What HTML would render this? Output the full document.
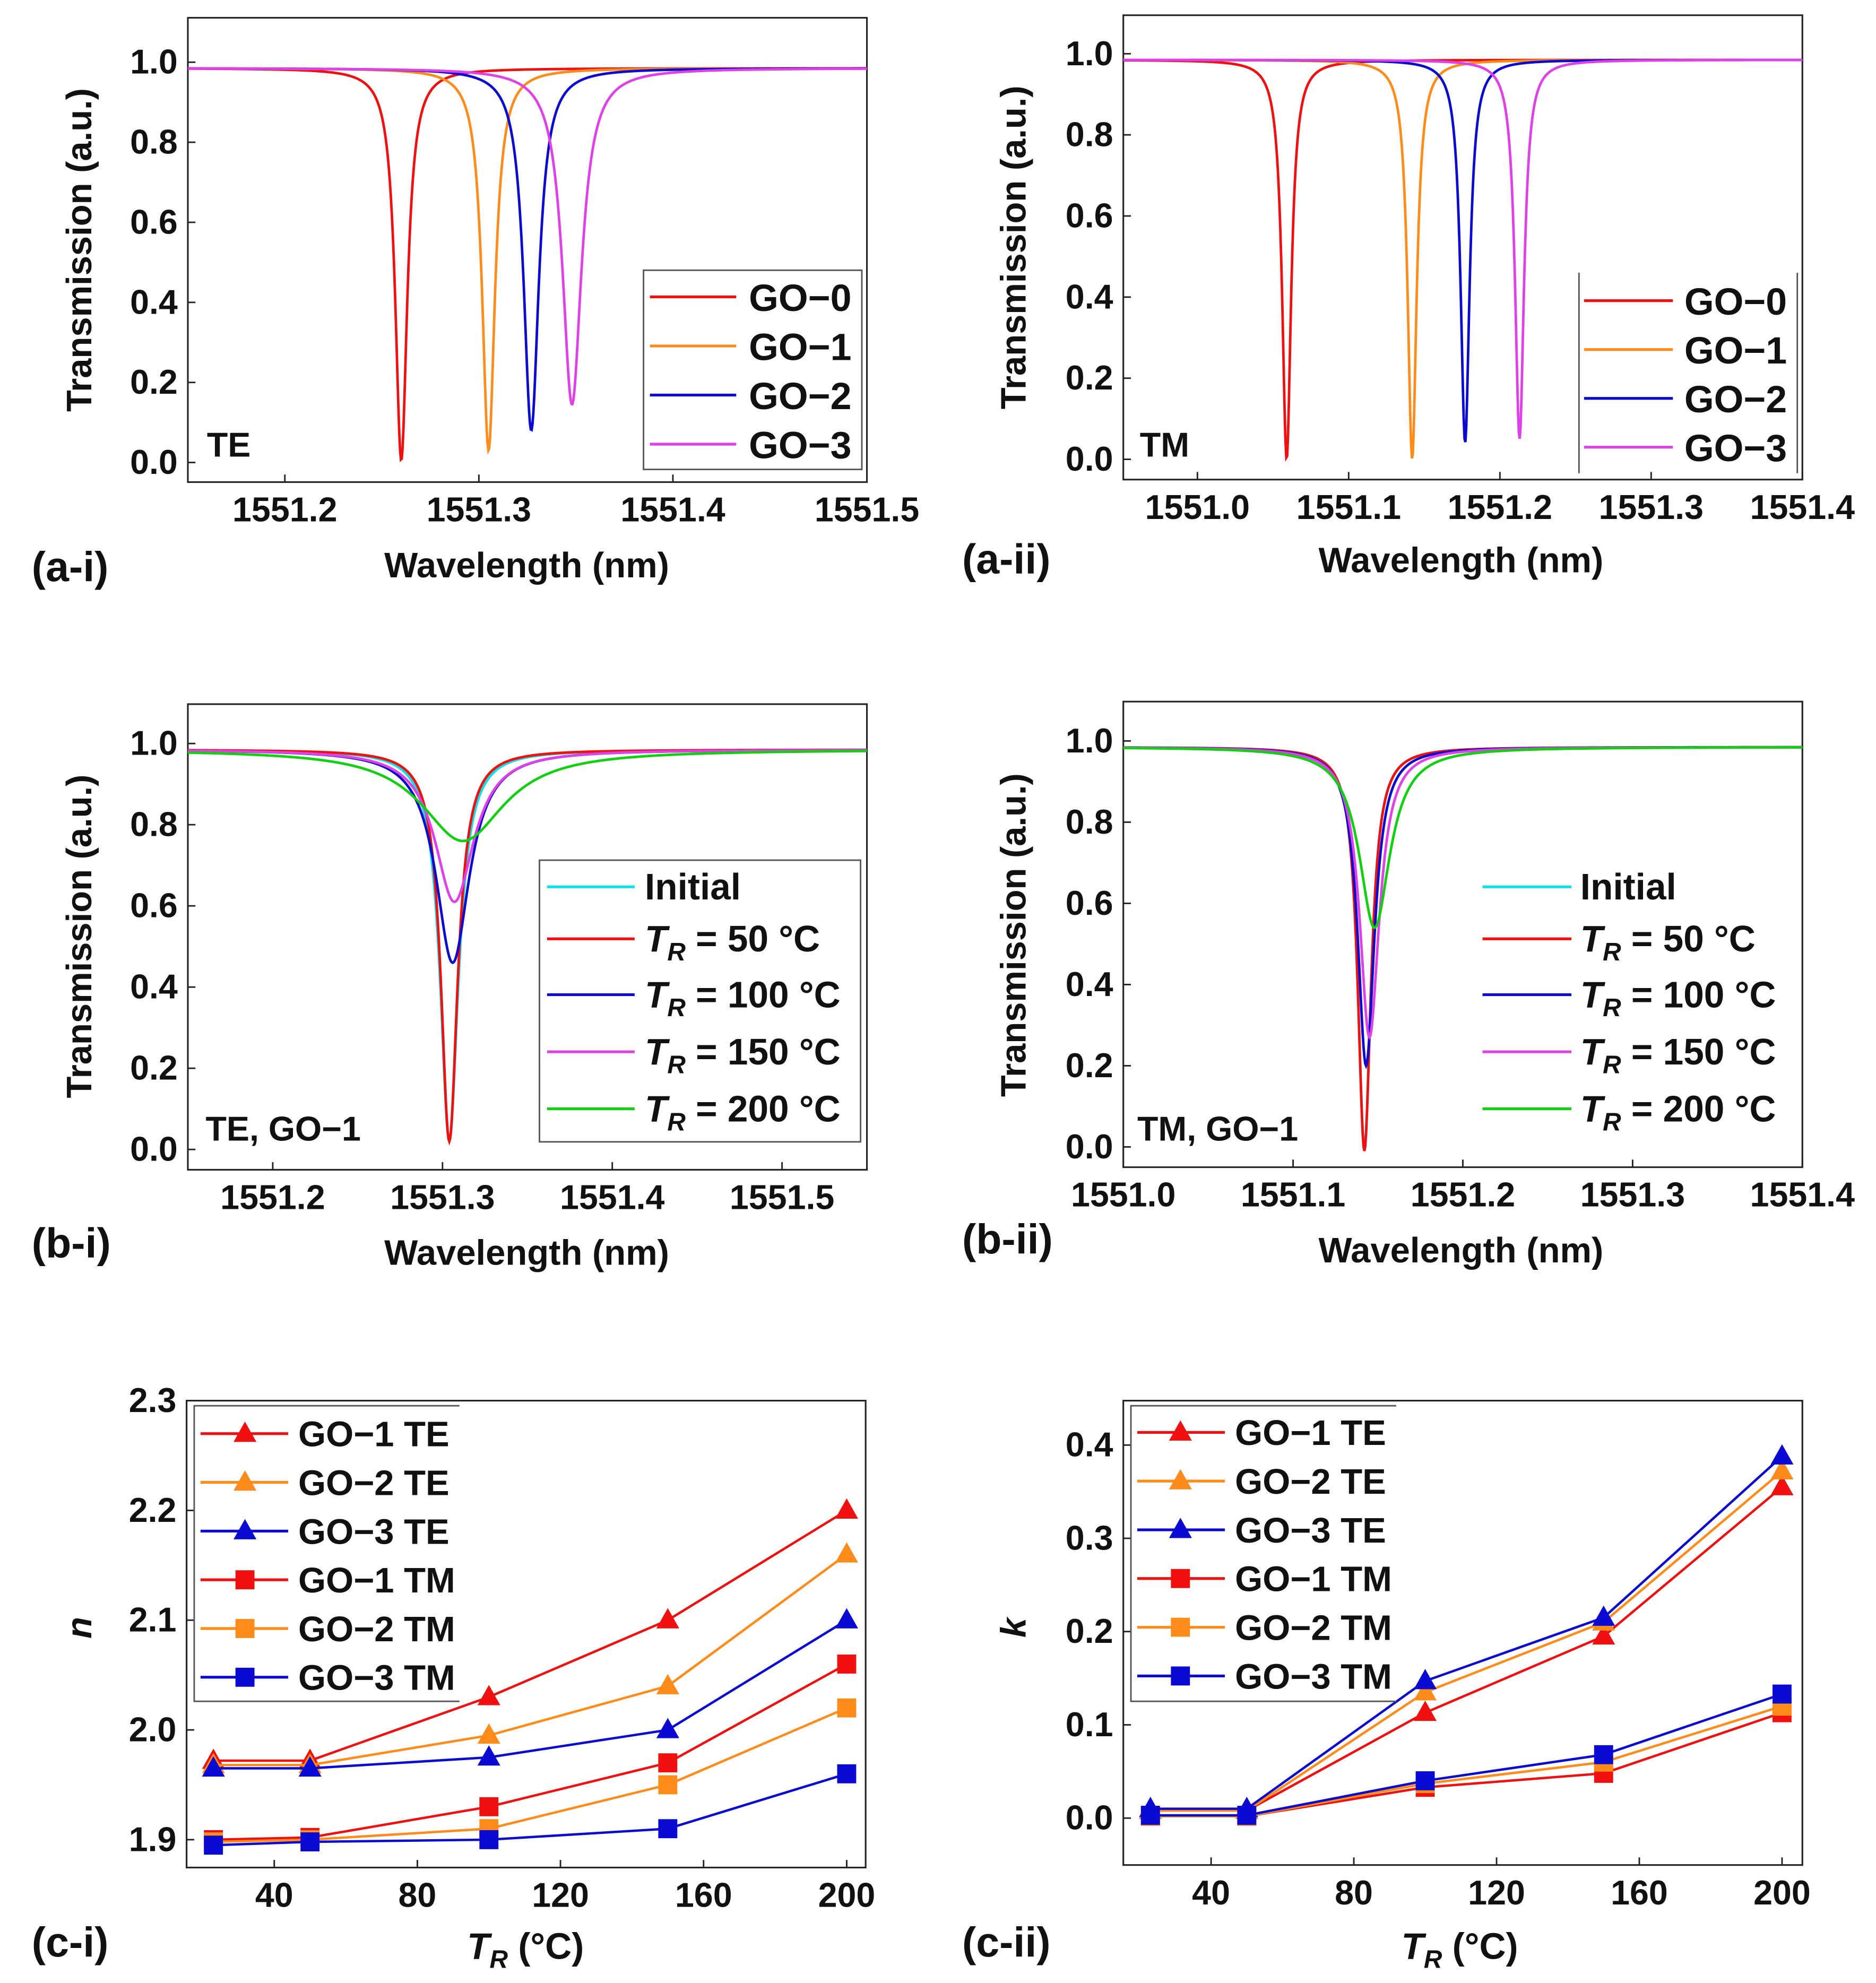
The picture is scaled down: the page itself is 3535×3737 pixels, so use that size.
<!DOCTYPE html>
<html><head><meta charset="utf-8"><style>
html,body{margin:0;padding:0;background:#fff}
svg{display:block}
text{font-family:"Liberation Sans",Arial,sans-serif;font-weight:bold;fill:#111}
</style></head><body>
<svg id="fig" width="3535" height="3737" viewBox="0 0 1478 1563" preserveAspectRatio="none" xmlns="http://www.w3.org/2000/svg"></svg>
<script>
// ---- data: spectral dips (center nm, min transmission, FWHM nm) ----
const aiNames=["GO\u22120","GO\u22121","GO\u22122","GO\u22123"];
const aiCenters=[1551.260,1551.305,1551.327,1551.348];
const aiMins=[0.005,0.03,0.08,0.145];
const aiWidths=[0.0075,0.008,0.0095,0.012];
const aiiCenters=[1551.059,1551.142,1551.177,1551.213];
const aiiMins=[0.0,0.0,0.04,0.05];
const aiiWidths=[0.0072,0.0072,0.0072,0.0072];
const bNames=["Initial","T_R = 50 \u00b0C","T_R = 100 \u00b0C","T_R = 150 \u00b0C","T_R = 200 \u00b0C"];
const biCenters=[1551.304,1551.304,1551.306,1551.307,1551.312];
const biMins=[0.02,0.02,0.46,0.61,0.76];
const biWidths=[0.013,0.012,0.024,0.028,0.060];
const biiCenters=[1551.142,1551.142,1551.143,1551.145,1551.148];
const biiMins=[0.0,-0.01,0.20,0.27,0.54];
const biiWidths=[0.0095,0.0095,0.012,0.014,0.022];
// ---- data: n and k vs T_R ----
const tr=[23,50,100,150,200];
const cNames=["GO\u22121 TE","GO\u22122 TE","GO\u22123 TE","GO\u22121 TM","GO\u22122 TM","GO\u22123 TM"];
const nGO1TE=[1.972,1.972,2.03,2.10,2.20];
const nGO2TE=[1.968,1.968,1.995,2.04,2.16];
const nGO3TE=[1.965,1.965,1.975,2.00,2.10];
const nGO1TM=[1.900,1.902,1.93,1.97,2.06];
const nGO2TM=[1.898,1.900,1.91,1.95,2.02];
const nGO3TM=[1.895,1.898,1.90,1.91,1.96];
const kGO1TE=[0.008,0.008,0.113,0.195,0.355];
const kGO2TE=[0.008,0.008,0.135,0.210,0.372];
const kGO3TE=[0.010,0.010,0.147,0.215,0.388];
const kGO1TM=[0.002,0.002,0.033,0.048,0.113];
const kGO2TM=[0.002,0.002,0.037,0.060,0.120];
const kGO3TM=[0.003,0.003,0.040,0.068,0.133];

const NS="http://www.w3.org/2000/svg";
const svg=document.getElementById('fig');
function el(tag,attrs,parent,txt){const e=document.createElementNS(NS,tag);for(const k in attrs)e.setAttribute(k,attrs[k]);if(txt!==undefined)e.textContent=txt;(parent||svg).appendChild(e);return e;}
const RED="#f01010",ORG="#ff8c1a",BLU="#0a0ad2",MAG="#e040e8",CYA="#10e0e8",GRN="#10d010";

function panel(p){
  const g=el('g',{});
  
  
  const X=v=>p.x0+(v-p.xmin)/(p.xmax-p.xmin)*(p.x1-p.x0);
  const Y=v=>p.y1-(v-p.ymin)/(p.ymax-p.ymin)*(p.y1-p.y0);
  p.X=X;p.Y=Y;p.g=g;
  const box=el('rect',{x:p.x0,y:p.y0,width:p.x1-p.x0,height:p.y1-p.y0,fill:'none',stroke:'#222','stroke-width':1.3},g);
  
  
  p.xt.forEach((v,i)=>{
    const x=X(v);
    el('line',{x1:x,x2:x,y1:p.y1,y2:p.y1-6,stroke:'#222','stroke-width':1.2},g);
    const t=el('text',{x:x,y:p.y1+31,'font-size':27,'text-anchor':'middle'},g,p.xl[i]);
    
    
  });
  p.yt.forEach((v,i)=>{
    const y=Y(v);
    el('line',{x1:p.x0,x2:p.x0+6,y1:y,y2:y,stroke:'#222','stroke-width':1.2},g);
    const t=el('text',{x:p.x0-8,y:y+9,'font-size':27,'text-anchor':'end'},g,p.yl[i]);
    
    
  });
  return p;
}
function dipSeries(p,c,m,w,color,name){
  let d='';
  for(let i=0;i<=800;i++){
    const x=p.xmin+(p.xmax-p.xmin)*i/800;
    const u=(x-c)/(w/2);
    const v=0.985-(0.985-m)/(1+u*u);
    d+=(i?'L':'M')+p.X(x).toFixed(2)+','+p.Y(v).toFixed(2);
  }
  const path=el('path',{d:d,fill:'none',stroke:color,'stroke-width':2},p.g);
  
  
}
function legendLine(x1,x2,y,color,parent){el('line',{x1:x1,x2:x2,y1:y,y2:y,stroke:color,'stroke-width':2.2},parent);}
function trText(parent,x,y,rest){
  const t=el('text',{x:x,y:y,'font-size':29},parent);
  el('tspan',{'font-style':'italic'},t,'T');
  el('tspan',{'font-style':'italic','font-size':20,dy:7},t,'R');
  el('tspan',{dy:-7},t,rest);
  return t;
}
function label(x,y,txt,name,size){const t=el('text',{x:x,y:y,'font-size':size||30},svg,txt);return t;}
function ytitle(x,y,txt,name,italic){const t=el('text',{x:x,y:y,'font-size':28,'text-anchor':'middle',transform:`rotate(-90 ${x} ${y})`,'font-style':italic?'italic':'normal'},svg,txt);}
function xtitle(x,y,txt,name){const t=el('text',{x:x,y:y,'font-size':28,'text-anchor':'middle'},svg,txt);}

const tyT=[0,0.2,0.4,0.6,0.8,1.0], tyL=["0.0","0.2","0.4","0.6","0.8","1.0"];
const pai=panel({name:'panel-a-i',x0:148,x1:683,y0:14,y1:380,xmin:1551.15,xmax:1551.5,ymin:-0.049,ymax:1.111,
  xt:[1551.2,1551.3,1551.4,1551.5],xl:["1551.2","1551.3","1551.4","1551.5"],yt:tyT,yl:tyL});
const aCols=[RED,ORG,BLU,MAG];
aiCenters.forEach((c,i)=>dipSeries(pai,c,aiMins[i],aiWidths[i],aCols[i],'series-'+i));
const paii=panel({name:'panel-a-ii',x0:885,x1:1420,y0:12,y1:378,xmin:1550.951,xmax:1551.4,ymin:-0.05,ymax:1.095,
  xt:[1551.0,1551.1,1551.2,1551.3,1551.4],xl:["1551.0","1551.1","1551.2","1551.3","1551.4"],yt:tyT,yl:tyL});
aiiCenters.forEach((c,i)=>dipSeries(paii,c,aiiMins[i],aiiWidths[i],aCols[i],'series-'+i));
const bCols=[CYA,RED,BLU,MAG,GRN];
const pbi=panel({name:'panel-b-i',x0:148,x1:683,y0:555,y1:922,xmin:1551.15,xmax:1551.55,ymin:-0.05,ymax:1.097,
  xt:[1551.2,1551.3,1551.4,1551.5],xl:["1551.2","1551.3","1551.4","1551.5"],yt:tyT,yl:tyL});
biCenters.forEach((c,i)=>dipSeries(pbi,c,biMins[i],biWidths[i],bCols[i],'series-'+i));
const pbii=panel({name:'panel-b-ii',x0:885,x1:1420,y0:553,y1:920,xmin:1551.0,xmax:1551.4,ymin:-0.05,ymax:1.097,
  xt:[1551.0,1551.1,1551.2,1551.3,1551.4],xl:["1551.0","1551.1","1551.2","1551.3","1551.4"],yt:tyT,yl:tyL});
biiCenters.forEach((c,i)=>dipSeries(pbii,c,biiMins[i],biiWidths[i],bCols[i],'series-'+i));

function legendA(x,yTop,w,h,box){
  const g=el('g',{});
  
  
  if(box) el('rect',{x:x,y:yTop,width:w,height:h,fill:'#fff',stroke:'#555','stroke-width':1.2},g);
  return g;
}
let lg=legendA(507,213,172,157,true);
aiNames.forEach((n,i)=>{const y=234+i*38.7;legendLine(512,580,y,aCols[i],lg);const t=el('text',{x:590,y:y+11,'font-size':30},lg,n);});
lg=legendA(1244,215,172,158,false);
el('line',{x1:1244,x2:1244,y1:215,y2:373,stroke:'#555','stroke-width':1.2},lg);
el('line',{x1:1416,x2:1416,y1:215,y2:373,stroke:'#555','stroke-width':1.2},lg);
aiNames.forEach((n,i)=>{const y=237+i*38.5;legendLine(1248,1318,y,aCols[i],lg);const t=el('text',{x:1327,y:y+11,'font-size':30},lg,n);});
(function(){const g=legendA(425,678,253,222,true);
  bNames.forEach((n,i)=>{const y=[699,740,784,829,874][i];legendLine(431,500,y,bCols[i],g);
    let t; if(i===0){t=el('text',{x:508,y:y+10,'font-size':29},g,n);} else {t=trText(g,508,y+10,n.slice(3));}
    });})();
(function(){const g=el('g',{transform:'translate(737,0)'});
  bNames.forEach((n,i)=>{const y=[699,740,784,829,874][i];legendLine(431,501,y,bCols[i],g);
    let t; if(i===0){t=el('text',{x:508,y:y+10,'font-size':29},g,n);} else {t=trText(g,508,y+10,n.slice(3));}
    });})();

const cCols=[RED,ORG,BLU,RED,ORG,BLU];
const cTri=[true,true,true,false,false,false];
function marker(g,x,y,tri,color){
  if(tri) el('path',{d:`M${x},${y-9.5}L${x+9},${y+6.5}L${x-9},${y+6.5}Z`,fill:color},g);
  else el('rect',{x:x-7.5,y:y-7.5,width:15,height:15,fill:color},g);
}
function cPanel(p,series){
  series.forEach((s,i)=>{
    const g=el('g',{},p.g);
    
    
    const d=s.map((v,j)=>(j?'L':'M')+p.X(tr[j])+','+p.Y(v)).join('');
    el('path',{d:d,fill:'none',stroke:cCols[i],'stroke-width':1.9},g);
    s.forEach((v,j)=>marker(g,p.X(tr[j]),p.Y(v),cTri[i],cCols[i]));
  });
}
const pci=panel({name:'panel-c-i',x0:147,x1:682,y0:1104,y1:1472,xmin:15.5,xmax:205.3,ymin:1.8746,ymax:2.3,
  xt:[40,80,120,160,200],xl:["40","80","120","160","200"],yt:[1.9,2.0,2.1,2.2,2.3],yl:["1.9","2.0","2.1","2.2","2.3"]});
cPanel(pci,[nGO1TE,nGO2TE,nGO3TE,nGO1TM,nGO2TM,nGO3TM]);
const pcii=panel({name:'panel-c-ii',x0:885,x1:1420,y0:1104,y1:1470,xmin:15.4,xmax:205.7,ymin:-0.0503,ymax:0.4476,
  xt:[40,80,120,160,200],xl:["40","80","120","160","200"],yt:[0,0.1,0.2,0.3,0.4],yl:["0.0","0.1","0.2","0.3","0.4"]});
cPanel(pcii,[kGO1TE,kGO2TE,kGO3TE,kGO1TM,kGO2TM,kGO3TM]);
function legendC(bx,lx1,lx2,mx,tx,ys){
  const g=el('g',{});
  el('path',{d:`M${bx+209},${1108}L${bx},1108L${bx},1341L${bx+209},1341`,fill:'#fff',stroke:'#555','stroke-width':1.2},g);
  cNames.forEach((n,i)=>{const y=ys+i*38.4;legendLine(lx1,lx2,y,cCols[i],g);marker(g,mx,y,cTri[i],cCols[i]);
    const t=el('text',{x:tx,y:y+10,'font-size':28},g,n);});
}
legendC(153,158,227,193,235,1130);
legendC(891,896,965,930,973,1129);

label(163,360,'TE','mode-label',27);label(898,360,'TM','mode-label',27);
label(162,899,'TE, GO\u22121','mode-label',27);label(896,899,'TM, GO\u22121','mode-label',27);
label(25,458,'(a-i)','panel-label-a-i',33);label(758,452,'(a-ii)','panel-label-a-ii',33);
label(25,991,'(b-i)','panel-label-b-i',33);label(758,988,'(b-ii)','panel-label-b-ii',33);
label(25,1542,'(c-i)','panel-label-c-i',33);label(758,1542,'(c-ii)','panel-label-c-ii',33);
xtitle(415,455,'Wavelength (nm)','x-axis-title');xtitle(1151,451,'Wavelength (nm)','x-axis-title');
xtitle(415,997,'Wavelength (nm)','x-axis-title');xtitle(1151,995,'Wavelength (nm)','x-axis-title');
ytitle(72,197,'Transmission (a.u.)','y-axis-title');ytitle(808,195,'Transmission (a.u.)','y-axis-title');
ytitle(72,738,'Transmission (a.u.)','y-axis-title');ytitle(808,737,'Transmission (a.u.)','y-axis-title');
ytitle(72,1283,'n','y-axis-title',true);ytitle(808,1283,'k','y-axis-title',true);
[[415,1544],[1151,1544]].forEach(([x,y])=>{const t=trText(svg,x-47,y,' (\u00b0C)');});
</script>
</body></html>
